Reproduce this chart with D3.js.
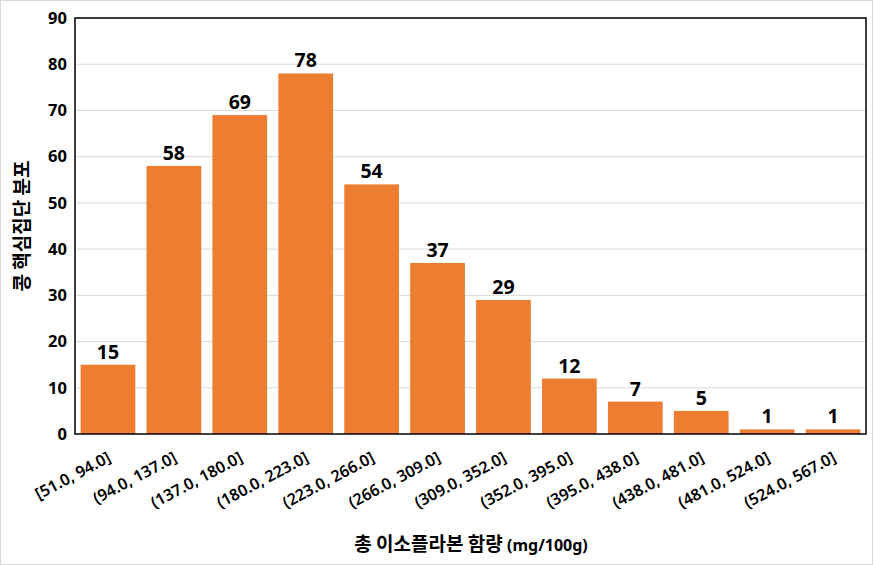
<!DOCTYPE html>
<html><head><meta charset="utf-8">
<script src="https://cdn.jsdelivr.net/npm/d3@7"></script>
<style>body{margin:0;background:#fff}svg{display:block}</style>
</head><body>
<svg id="c" width="873" height="565"></svg>
<script>
const categories = ["[51.0, 94.0]","(94.0, 137.0]","(137.0, 180.0]","(180.0, 223.0]","(223.0, 266.0]","(266.0, 309.0]","(309.0, 352.0]","(352.0, 395.0]","(395.0, 438.0]","(438.0, 481.0]","(481.0, 524.0]","(524.0, 567.0]"];
const values = [15,58,69,78,54,37,29,12,7,5,1,1];
const yTicks = [0,10,20,30,40,50,60,70,80,90];
const xTitle = "총 이소플라본 함량";
const xUnit = "(mg/100g)";
const yTitle = "콩 핵심집단 분포";

const svg = d3.select("#c");
const W = 873, H = 565;
const m = {l:75, r:7, t:18, b:131};
const font = "'Noto Sans','Noto Sans CJK KR',sans-serif";
const kfont = "'Noto Sans CJK KR','Noto Sans',sans-serif";

svg.append("rect").attr("x",0.5).attr("y",0.5).attr("width",W-1).attr("height",H-1)
  .attr("fill","#fff").attr("stroke","#d9d9d9");

const x = d3.scaleBand().domain(categories).range([m.l, W-m.r]).paddingInner(0.17).paddingOuter(0.085);
const y = d3.scaleLinear().domain([0,90]).range([H-m.b, m.t]);

svg.append("g").selectAll("line").data(yTicks.filter(d=>d>0)).join("line")
  .attr("x1",m.l).attr("x2",W-m.r).attr("y1",d=>y(d)).attr("y2",d=>y(d))
  .attr("stroke","#d9d9d9").attr("stroke-width",1);

svg.append("g").selectAll("rect").data(values).join("rect")
  .attr("x",(d,i)=>x(categories[i])).attr("width",x.bandwidth())
  .attr("y",d=>y(d)).attr("height",d=>y(0)-y(d)).attr("fill","#ED7D31");

svg.append("g").selectAll("text").data(values).join("text")
  .attr("x",(d,i)=>x(categories[i])+x.bandwidth()/2).attr("y",d=>y(d)-6)
  .attr("text-anchor","middle").attr("font-family",font).attr("font-weight","bold")
  .attr("font-size",19.5).attr("fill","#000").text(d=>d);

svg.append("rect").attr("x",m.l).attr("y",m.t).attr("width",W-m.r-m.l).attr("height",H-m.b-m.t)
  .attr("fill","none").attr("stroke","#000").attr("stroke-width",1.5);

const ya = svg.append("g").attr("transform",`translate(${m.l},0)`)
  .call(d3.axisLeft(y).tickValues(yTicks).tickSize(0).tickPadding(8));
ya.select(".domain").remove();
ya.selectAll("text").attr("font-family",font).attr("font-weight","bold").attr("font-size",16.5).attr("fill","#000");

const xa = svg.append("g").attr("transform",`translate(0,${H-m.b})`)
  .call(d3.axisBottom(x).tickSize(0).tickPadding(0));
xa.select(".domain").remove();
xa.selectAll("text").attr("font-family",font).attr("font-weight",600).attr("font-size",16).attr("fill","#000")
  .attr("text-anchor","end").attr("dy",0)
  .attr("transform","translate(4,27) rotate(-28)");

const xt = svg.append("text").attr("x",471).attr("y",551).attr("text-anchor","middle").attr("fill","#000");
xt.append("tspan").attr("font-family",kfont).attr("font-weight","bold").attr("font-size",19).text(xTitle+" ");
xt.append("tspan").attr("font-family",font).attr("font-weight","bold").attr("font-size",16).text(xUnit);

svg.append("text").attr("transform","translate(29,226) rotate(-90)").attr("text-anchor","middle")
  .attr("font-family",kfont).attr("font-weight","bold").attr("font-size",19).attr("fill","#000").text(yTitle);
</script>
</body></html>
